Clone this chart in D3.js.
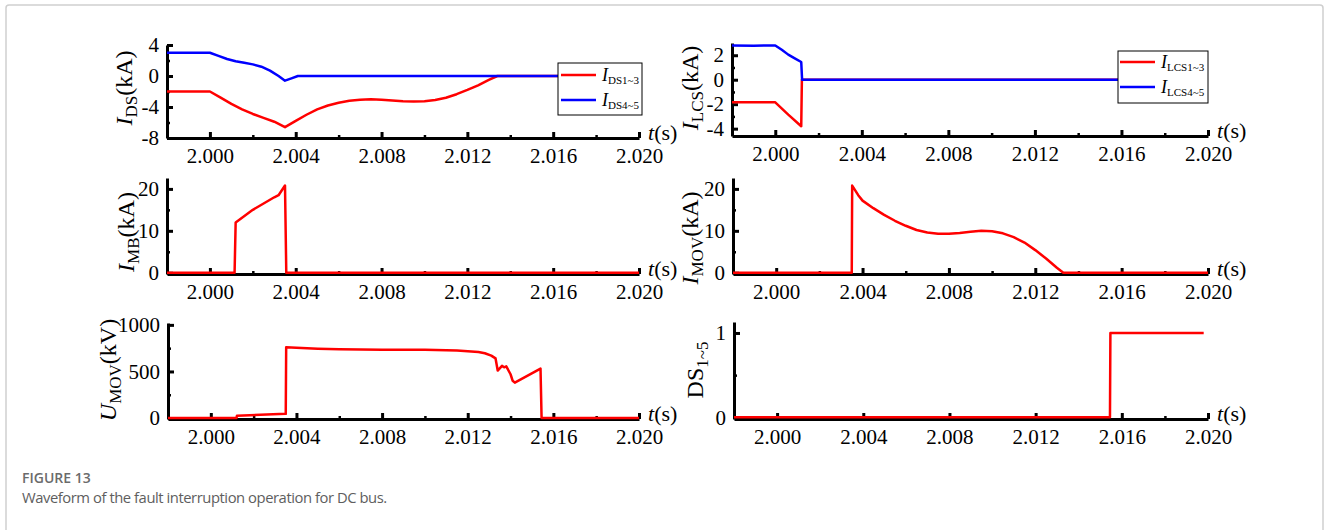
<!DOCTYPE html>
<html><head><meta charset="utf-8">
<script src="https://cdn.jsdelivr.net/npm/d3@7"></script>
<style>
body{margin:0;background:#fff;}
svg{display:block;}
</style></head><body>
<svg id="c" width="1330" height="530"></svg>
<script>
// ---------- data ----------
const timeDomain = [1.998, 2.020];
const xMajorTicks = [2.000, 2.004, 2.008, 2.012, 2.016, 2.020];
const xMinorTicks = [2.002, 2.006, 2.010, 2.014, 2.018];

// I_DS panel
const idsTimeA = [1.998, 2.000, 2.0005, 2.001, 2.0015, 2.002, 2.0025, 2.003, 2.0035, 2.004, 2.0045, 2.005, 2.0055, 2.006, 2.0065, 2.007, 2.0075, 2.008, 2.0085, 2.009, 2.0095, 2.010, 2.0105, 2.011, 2.0115, 2.012, 2.0125, 2.013, 2.0134, 2.020];
const ids13 =    [-2.0, -2.0, -2.8, -3.6, -4.3, -4.9, -5.4, -5.9, -6.6, -5.8, -5.0, -4.3, -3.8, -3.45, -3.2, -3.05, -3.0, -3.05, -3.15, -3.25, -3.3, -3.25, -3.1, -2.8, -2.35, -1.8, -1.2, -0.5, 0, 0];
const idsTimeB = [1.998, 2.000, 2.0004, 2.0008, 2.0012, 2.0016, 2.002, 2.0024, 2.0028, 2.0032, 2.0035, 2.0038, 2.0041, 2.020];
const ids45 =    [3.0, 3.0, 2.6, 2.2, 1.9, 1.7, 1.5, 1.2, 0.7, 0.0, -0.6, -0.3, 0, 0];

// I_LCS panel
const lcsTimeA = [1.998, 2.000, 2.0006, 2.0012, 2.00123, 2.020];
const lcs13 =    [-1.85, -1.85, -2.85, -3.8, 0, 0];
const lcsTimeB = [1.998, 1.999, 2.000, 2.0003, 2.0006, 2.0009, 2.0012, 2.00124, 2.020];
const lcs45 =    [2.8, 2.78, 2.8, 2.45, 2.05, 1.75, 1.45, 0, 0];

// I_MB panel
const mbTime = [1.998, 2.00115, 2.0012, 2.002, 2.003, 2.0032, 2.0035, 2.00356, 2.020];
const mbValues = [0, 0, 12.0, 15.0, 18.0, 18.5, 20.8, 0, 0];

// I_MOV panel
const movTime = [1.998, 2.0035, 2.00352, 2.0038, 2.004, 2.0045, 2.005, 2.0055, 2.006, 2.0065, 2.007, 2.0075, 2.008, 2.0085, 2.009, 2.0095, 2.010, 2.0105, 2.011, 2.0115, 2.012, 2.0125, 2.013, 2.0133, 2.020];
const movValues = [0, 0, 20.8, 18.5, 17.2, 15.4, 13.8, 12.4, 11.2, 10.2, 9.6, 9.3, 9.3, 9.5, 9.8, 10.0, 9.9, 9.4, 8.5, 7.2, 5.4, 3.4, 1.2, 0, 0];

// U_MOV panel
const umovTime = [1.998, 2.0012, 2.00122, 2.0035, 2.00352, 2.004, 2.005, 2.006, 2.007, 2.008, 2.009, 2.010, 2.011, 2.0115, 2.012, 2.0125, 2.0128, 2.0131, 2.0133, 2.0134, 2.0136, 2.0137, 2.0138, 2.0140, 2.0141, 2.0142, 2.0154, 2.01545, 2.020];
const umovValues = [0, 0, 25, 45, 760, 755, 745, 738, 735, 733, 733, 732, 728, 725, 718, 708, 695, 670, 640, 510, 560, 545, 555, 470, 400, 380, 530, 0, 0];

// DS status panel
const dsTime = [1.998, 2.01545, 2.01547, 2.0198];
const dsValues = [0, 0, 1, 1];

// ---------- drawing ----------
const SERIF = "'Liberation Serif','Times New Roman',serif";
const RED = "#ff0000", BLUE = "#0000ff";
const svg = d3.select("#c");

svg.append("rect").attr("x", 6).attr("y", 5).attr("width", 1317).attr("height", 540)
  .attr("rx", 3).attr("fill", "none").attr("stroke", "#cfcfcf").attr("stroke-width", 1.5);

function zip(t, v) { return t.map((d, i) => [d, v[i]]); }

const panels = [
  { x0: 167, x1: 639, yTop: 45, yBot: 138, dom: [-8, 4], major: [4, 0, -4, -8], minor: [2, -2, -6],
    title: [["I", "i"], ["DS", "sub"], ["(kA)", ""]], tx: 132, ty: 88,
    series: [{ t: idsTimeA, v: ids13, c: RED }, { t: idsTimeB, v: ids45, c: BLUE }],
    legend: { x: 558, y: 63, w: 84, h: 52, lx: 561, lw: 35, y1: 75, y2: 100, labels: ["DS1~3", "DS4~5"] } },
  { x0: 732, x1: 1208, yTop: 43, yBot: 136, dom: [-4.6, 3.0], major: [2, 0, -2, -4], minor: [1, -1, -3],
    title: [["I", "i"], ["LCS", "sub"], ["(kA)", ""]], tx: 698, ty: 88,
    series: [{ t: lcsTimeA, v: lcs13, c: RED }, { t: lcsTimeB, v: lcs45, c: BLUE }],
    legend: { x: 1118, y: 51, w: 90, h: 52, lx: 1120, lw: 35, y1: 62, y2: 87, labels: ["LCS1~3", "LCS4~5"] } },
  { x0: 167, x1: 639, yTop: 178, yBot: 274, dom: [-0.3, 22.6], major: [20, 10, 0], minor: [15, 5],
    title: [["I", "i"], ["MB", "sub"], ["(kA)", ""]], tx: 134, ty: 232,
    series: [{ t: mbTime, v: mbValues, c: RED }] },
  { x0: 733, x1: 1208, yTop: 178, yBot: 274, dom: [-0.3, 22.6], major: [20, 10, 0], minor: [15, 5],
    title: [["I", "i"], ["MOV", "sub"], ["(kA)", ""]], tx: 698, ty: 238,
    series: [{ t: movTime, v: movValues, c: RED }] },
  { x0: 168, x1: 639, yTop: 323, yBot: 419, dom: [-10, 1020], major: [1000, 500, 0], minor: [750, 250],
    title: [["U", "i"], ["MOV", "sub"], ["(kV)", ""]], tx: 116, ty: 370,
    series: [{ t: umovTime, v: umovValues, c: RED }] },
  { x0: 734, x1: 1208, yTop: 322, yBot: 419, dom: [-0.02, 1.13], major: [1, 0], minor: [0.5],
    title: [["DS", ""], ["1~5", "sub"]], tx: 703, ty: 370,
    series: [{ t: dsTime, v: dsValues, c: RED }] }
];

panels.forEach(p => {
  const g = svg.append("g");
  const x = d3.scaleLinear().domain(timeDomain).range([p.x0, p.x1]);
  const y = d3.scaleLinear().domain(p.dom).range([p.yBot, p.yTop]);
  const line = d3.line().x(d => x(d[0])).y(d => y(d[1]));

  const gx = g.append("g").attr("transform", `translate(0,${p.yBot})`)
    .call(d3.axisBottom(x).tickValues(xMajorTicks).tickFormat(d3.format(".3f"))
      .tickSizeInner(-6).tickSizeOuter(0).tickPadding(10));
  const gxm = g.append("g").attr("transform", `translate(0,${p.yBot})`)
    .call(d3.axisBottom(x).tickValues(xMinorTicks).tickFormat("").tickSizeInner(-3).tickSizeOuter(0));
  const gy = g.append("g").attr("transform", `translate(${p.x0},0)`)
    .call(d3.axisLeft(y).tickValues(p.major).tickFormat(d => d < 0 ? "-" + Math.abs(d) : d)
      .tickSizeInner(-6).tickSizeOuter(0).tickPadding(8));
  const gym = g.append("g").attr("transform", `translate(${p.x0},0)`)
    .call(d3.axisLeft(y).tickValues(p.minor).tickFormat("").tickSizeInner(-3).tickSizeOuter(0));

  [gx, gy].forEach(a => {
    a.select(".domain").attr("stroke", "#000").attr("stroke-width", 3);
    a.selectAll(".tick line").attr("stroke", "#000").attr("stroke-width", 3);
    a.selectAll(".tick text").attr("fill", "#000").style("font-family", SERIF).style("font-size", "21px");
  });
  [gxm, gym].forEach(a => {
    a.select(".domain").remove();
    a.selectAll(".tick line").attr("stroke", "#000").attr("stroke-width", 2.5);
  });

  p.series.forEach(s => {
    g.append("path").datum(zip(s.t, s.v)).attr("d", line)
      .attr("fill", "none").attr("stroke", s.c).attr("stroke-width", 2.5)
      .attr("stroke-linejoin", "round");
  });

  const tl = g.append("text").attr("x", p.x1 + 9).attr("y", p.yBot + 2)
    .style("font-family", SERIF).style("font-size", "22px").attr("fill", "#000");
  tl.append("tspan").style("font-style", "italic").text("t");
  tl.append("tspan").text("(s)");

  const tt = g.append("text").attr("transform", `translate(${p.tx},${p.ty}) rotate(-90)`)
    .attr("text-anchor", "middle").style("font-family", SERIF).style("font-size", "24px").attr("fill", "#000");
  let shifted = false;
  p.title.forEach(([txt, kind]) => {
    const ts = tt.append("tspan").text(txt);
    if (kind === "i") ts.style("font-style", "italic");
    if (kind === "sub") { ts.style("font-size", "17px").attr("dy", 5); shifted = true; }
    else if (shifted) { ts.attr("dy", -5); shifted = false; }
  });

  if (p.legend) {
    const L = p.legend;
    g.append("rect").attr("x", L.x).attr("y", L.y).attr("width", L.w).attr("height", L.h)
      .attr("fill", "#fff").attr("stroke", "#000").attr("stroke-width", 1);
    [[L.y1, RED, L.labels[0]], [L.y2, BLUE, L.labels[1]]].forEach(([ly, col, lab]) => {
      g.append("line").attr("x1", L.lx).attr("x2", L.lx + L.lw).attr("y1", ly).attr("y2", ly)
        .attr("stroke", col).attr("stroke-width", 2.5);
      const lt = g.append("text").attr("x", L.lx + L.lw + 6).attr("y", ly + 6)
        .style("font-family", SERIF).style("font-size", "18px").attr("fill", "#000");
      lt.append("tspan").style("font-style", "italic").text("I");
      lt.append("tspan").style("font-size", "11px").attr("dy", 3).text(lab);
    });
  }
});

// caption
svg.append("text").attr("x", 22).attr("y", 483).text("FIGURE 13")
  .style("font-family", "'Open Sans',sans-serif").style("font-size", "14px").style("font-weight", 600).attr("fill", "#6b6b6b");
svg.append("text").attr("x", 22).attr("y", 503).text("Waveform of the fault interruption operation for DC bus.")
  .style("font-family", "'Open Sans',sans-serif").style("font-size", "14.8px").style("letter-spacing", "-0.45px").attr("fill", "#5e5e5e");
</script>
</body></html>
